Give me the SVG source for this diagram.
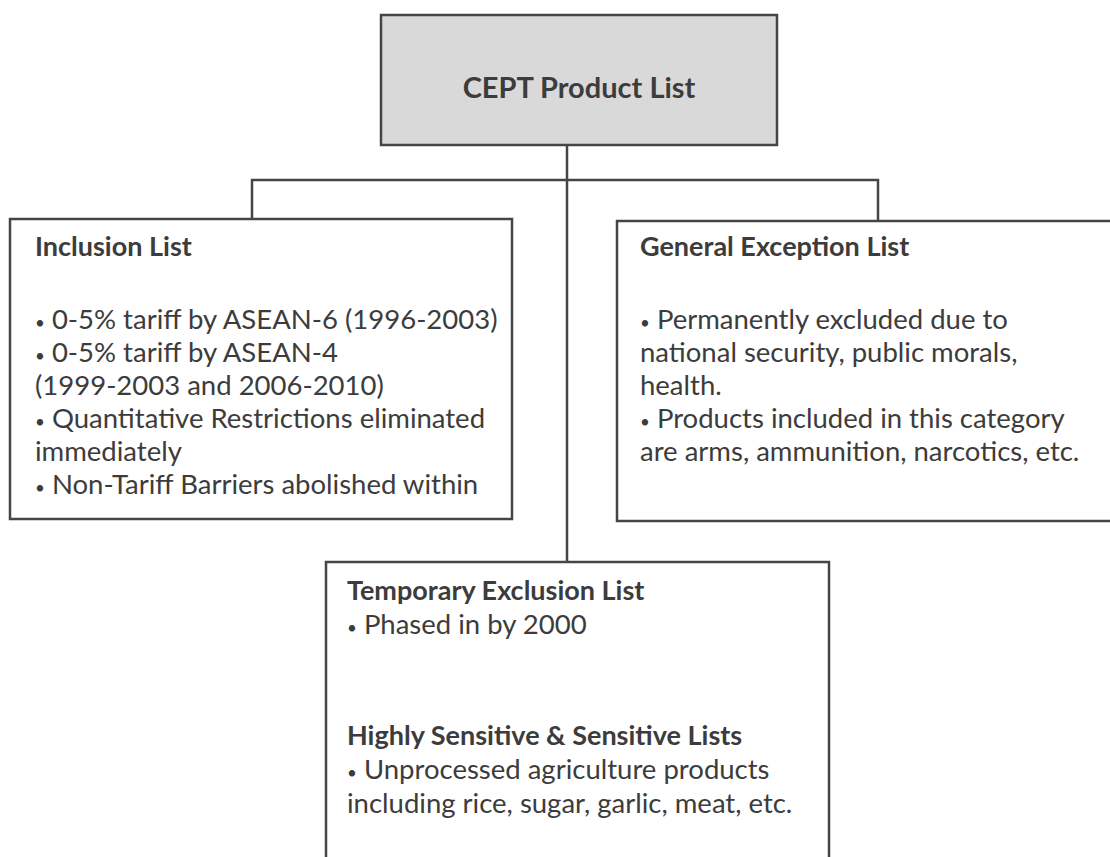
<svg xmlns="http://www.w3.org/2000/svg" width="1110" height="857" viewBox="0 0 1110 857">
<style>
.box{fill:#ffffff;stroke:#454545;stroke-width:2.5}
.top{fill:#d9d9d9;stroke:#454545;stroke-width:2.5}
.conn{fill:none;stroke:#454545;stroke-width:2.5}
text{font-family:Lato,"Liberation Sans",sans-serif;fill:#3c3c3c;font-size:27.5px}
.h{font-weight:bold;font-size:27px}
.title{font-weight:bold;font-size:29px}
.b{font-size:17px}
</style>
<rect width="1110" height="857" fill="#ffffff"/>
<g id="connectors">
<line class="conn" x1="567" y1="145" x2="567" y2="562"/>
<polyline class="conn" points="252,219 252,180 878,180 878,221"/>
</g>
<g id="node-cept">
<rect class="top" x="381" y="15" width="396" height="130"/>
<text class="title" x="579" y="98" text-anchor="middle">CEPT Product List</text>
</g>
<g id="node-inclusion">
<rect class="box" x="10" y="219" width="502" height="300"/>
<text class="h" x="35" y="256">Inclusion List</text>
<text x="35" y="329"><tspan class="b">•</tspan> 0-5% tariff by ASEAN-6 (1996-2003)</text>
<text x="35" y="362"><tspan class="b">•</tspan> 0-5% tariff by ASEAN-4</text>
<text x="35" y="395">(1999-2003 and 2006-2010)</text>
<text x="35" y="428"><tspan class="b">•</tspan> Quantitative Restrictions eliminated</text>
<text x="35" y="461">immediately</text>
<text x="35" y="494"><tspan class="b">•</tspan> Non-Tariff Barriers abolished within</text>
</g>
<g id="node-general">
<rect class="box" x="617" y="221" width="510" height="300"/>
<text class="h" x="640" y="256">General Exception List</text>
<text x="640" y="329"><tspan class="b">•</tspan> Permanently excluded due to</text>
<text x="640" y="362">national security, public morals,</text>
<text x="640" y="395">health.</text>
<text x="640" y="428"><tspan class="b">•</tspan> Products included in this category</text>
<text x="640" y="461">are arms, ammunition, narcotics, etc.</text>
</g>
<g id="node-temporary">
<rect class="box" x="326" y="562" width="503" height="310"/>
<text class="h" x="347" y="600">Temporary Exclusion List</text>
<text x="347" y="634"><tspan class="b">•</tspan> Phased in by 2000</text>
<text class="h" x="347" y="745">Highly Sensitive &amp; Sensitive Lists</text>
<text x="347" y="779"><tspan class="b">•</tspan> Unprocessed agriculture products</text>
<text x="347" y="813">including rice, sugar, garlic, meat, etc.</text>
</g>
</svg>
